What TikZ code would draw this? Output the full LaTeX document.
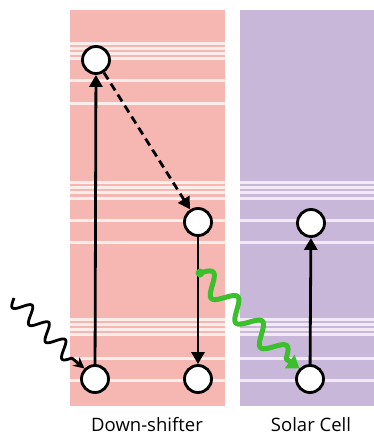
\documentclass[tikz,border=0pt]{standalone}
\usepackage{fontspec}
\setmainfont{Open Sans}
\usetikzlibrary{arrows.meta}
\definecolor{dsred}{HTML}{F6B7B2}
\definecolor{scpurple}{HTML}{C9B7DA}
\definecolor{stripe}{HTML}{FDEDEB}
\definecolor{stripep}{HTML}{F1EAF6}
\definecolor{photon}{HTML}{3CBF2C}
\tikzset{
  level/.style={circle,draw=black,line width=2.8pt,fill=white,minimum size=27pt,inner sep=0pt},
  trans/.style={line width=2.8pt,-{Triangle[length=12pt,width=13pt]}},
  band/.style={line width=3pt},
  label/.style={font=\fontsize{18.5}{20}\selectfont,anchor=center}
}
\begin{document}
\begin{tikzpicture}[x=1pt,y=-1pt,line join=round]
\useasboundingbox (0,0) rectangle (374,437);
% material columns
\fill[dsred] (70,10) rectangle (225,406);
\fill[scpurple] (240,10) rectangle (374,406);
% energy bands
\foreach \y in {43,48,53,58,80,103} \draw[band,stripe] (70,\y) -- (225,\y);
\foreach \y in {182,187,192,198,220,242,319,324,329,334,358,380}
  {\draw[band,stripe] (70,\y) -- (225,\y);
   \draw[band,stripep] (240,\y) -- (374,\y);}
% energy levels
\node[level] (g1) at (95,379) {};
\node[level] (e1) at (96,60) {};
\node[level] (e2) at (198,222) {};
\node[level] (g2) at (198,379) {};
\node[level] (sg) at (310,379) {};
\node[level] (se) at (311,223) {};
% transitions
\draw[trans] (g1) -- (e1);
\draw[trans,dash pattern=on 8pt off 5pt] (e1) -- (e2);
\draw[trans] (e2) -- (g2);
\draw[trans] (sg) -- (se);
% incoming photon: sine wave along the diagonal
\coordinate (inc) at (14,298);
\draw[line width=2.8pt,-{Stealth[length=11pt,width=11pt]}]
  plot[domain=0:1,samples=140,smooth,variable=\t]
    ({14+58*\t - 8*sin(3.5*360*\t)*0.718},{298+60*\t + 8*sin(3.5*360*\t)*0.696})
  -- (g1.north west);
% emitted photon
\coordinate (emit) at (200,273);
\fill[photon] (emit) circle (4.5pt);
\draw[photon,line width=5pt,-{Triangle[length=12pt,width=16pt]}]
  plot[domain=0:1,samples=160,smooth,variable=\t]
    ({200+86*\t + 10*sin(3.5*360*\t)*0.707},{273+86*\t - 10*sin(3.5*360*\t)*0.707})
  -- (sg.north west);
% labels
\node[label] (ldown) at (147,425) {Down-shifter};
\node[label] (lsolar) at (311,425) {Solar Cell};
\end{tikzpicture}
\end{document}
